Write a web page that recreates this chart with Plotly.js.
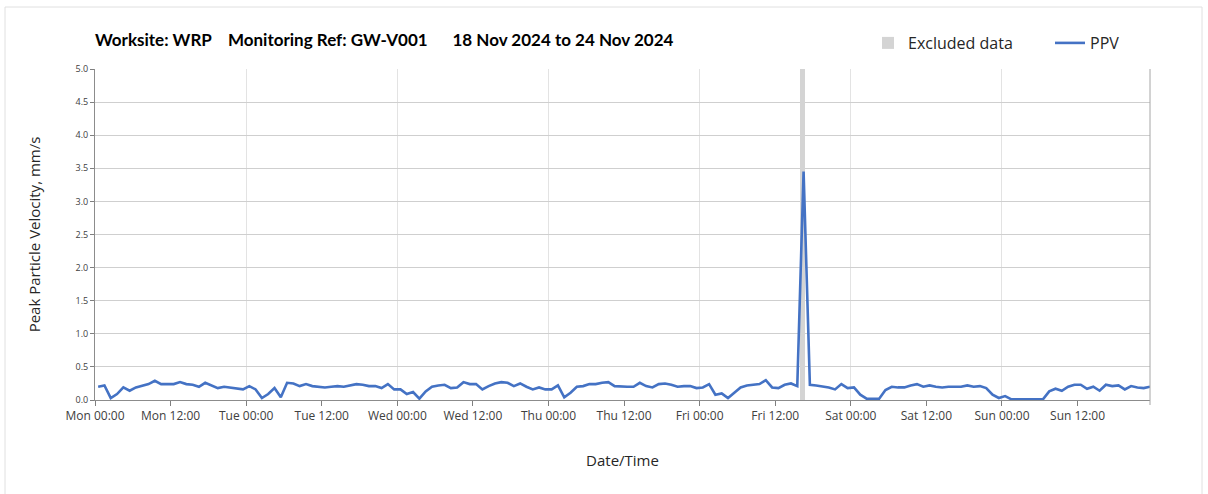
<!DOCTYPE html>
<html>
<head>
<meta charset="utf-8">
<script src="https://cdn.plot.ly/plotly-3.0.1.min.js"></script>
<style>html,body{margin:0;padding:0;background:#fff;}#chart{width:1208px;height:494px;}</style>
</head>
<body>
<div id="chart"></div>
<script>
// Hourly PPV readings (mm/s), first reading 18 Nov 2024 00:30, one per hour
const startTime = '2024-11-18T00:30:00';
const ppvValues = [
  0.20,0.22,0.03,0.09,0.19,0.14,0.19,0.21,0.24,0.29,0.24,0.24,0.24,0.27,0.24,0.23,0.20,0.26,0.22,0.18,0.20,0.19,0.18,0.16,
  0.21,0.16,0.03,0.09,0.18,0.04,0.26,0.25,0.21,0.24,0.21,0.20,0.19,0.20,0.21,0.20,0.22,0.24,0.23,0.21,0.21,0.18,0.24,0.16,
  0.16,0.09,0.12,0.02,0.13,0.20,0.22,0.23,0.18,0.19,0.27,0.24,0.24,0.16,0.21,0.25,0.27,0.26,0.21,0.25,0.20,0.16,0.19,0.16,
  0.16,0.22,0.04,0.11,0.20,0.21,0.24,0.24,0.26,0.27,0.21,0.20,0.20,0.20,0.26,0.21,0.19,0.24,0.25,0.23,0.20,0.21,0.21,0.18,
  0.19,0.24,0.08,0.10,0.03,0.11,0.19,0.22,0.23,0.24,0.30,0.19,0.18,0.23,0.25,0.21,3.45,0.23,0.22,0.21,0.19,0.16,0.24,0.18,
  0.19,0.08,0.02,0.02,0.02,0.15,0.20,0.19,0.19,0.22,0.24,0.20,0.22,0.20,0.19,0.20,0.20,0.20,0.22,0.20,0.21,0.18,0.08,0.03,
  0.06,0.01,0.01,0.01,0.01,0.01,0.01,0.13,0.17,0.14,0.20,0.23,0.23,0.17,0.20,0.14,0.23,0.21,0.22,0.16,0.21,0.19,0.18,0.20
];
// Excluded data period
const excludedStart = ['2024-11-22T16:20:00'];
const excludedHeight = [5.0];
const excludedWidthMinutes = 50;

const xRange = ['2024-11-18 00:00', '2024-11-24 23:30'];
const yRange = [0, 5];
const yDtick = 0.5;

const HOUR = 3600000;
const t0 = new Date(startTime + 'Z').getTime();
const fmt = ms => new Date(ms).toISOString().replace('T',' ').slice(0,19);
const ppvTimes = ppvValues.map((v,i) => fmt(t0 + i*HOUR));

const traces = [
  {
    type: 'bar', name: 'Excluded data',
    x: excludedStart, y: excludedHeight,
    width: [excludedWidthMinutes*60000],
    marker: {color: '#d4d4d4', line: {width: 0}},
    xaxis: 'x', yaxis: 'y',
    hoverinfo: 'skip'
  },
  {
    type: 'scatter', mode: 'lines', name: 'PPV',
    x: ppvTimes, y: ppvValues,
    line: {color: '#4472c4', width: 2.6},
    xaxis: 'x2', yaxis: 'y'
  }
];

const W = 1208, H = 494;
const layout = {
  width: W, height: H,
  paper_bgcolor: '#ffffff', plot_bgcolor: '#ffffff',
  margin: {l: 95, r: 58, t: 69, b: 94},
  showlegend: true,
  legend: {orientation: 'h', xref: 'container', yref: 'container',
           x: 868/W, xanchor: 'left', y: 1 - 43/H, yanchor: 'middle',
           font: {family: 'Open Sans, sans-serif', size: 16, color: '#262626'},
           bgcolor: 'rgba(0,0,0,0)', traceorder: 'normal', itemwidth: 30, entrywidth: 137},
  title: {
    text: '<b>Worksite: WRP\u00a0\u00a0\u00a0\u00a0Monitoring Ref: GW-V001\u00a0\u00a0\u00a0\u00a0\u00a0\u00a018 Nov 2024 to 24 Nov 2024</b>',
    font: {family: 'Lato, sans-serif', size: 17, color: '#000000'},
    xref: 'container', x: 95/W, xanchor: 'left', yref: 'container', y: 1 - 40/H, yanchor: 'middle'
  },
  xaxis: {
    type: 'date', range: xRange,
    dtick: 24*HOUR, tick0: '2024-11-18 00:00',
    showgrid: true, gridcolor: '#e3e3e3', gridwidth: 1,
    showticklabels: false, ticks: '', zeroline: false,
    showline: true, linecolor: '#8c8c8c', linewidth: 1
  },
  xaxis2: {
    type: 'date', range: xRange, overlaying: 'x', side: 'bottom', anchor: 'y',
    dtick: 12*HOUR, tick0: '2024-11-18 00:00',
    tickformat: '%a %H:%M',
    ticks: 'outside', ticklen: 5, tickcolor: '#7f7f7f',
    showgrid: false, zeroline: false, showline: false,
    tickfont: {family: 'Open Sans, sans-serif', size: 12, color: '#404040'},
    title: {text: 'Date/Time', font: {family: 'Open Sans, sans-serif', size: 15, color: '#262626'}, standoff: 32}
  },
  yaxis: {
    range: yRange, dtick: yDtick, tickformat: '.1f',
    ticks: 'outside', ticklen: 4, tickcolor: '#7f7f7f',
    showgrid: true, gridcolor: '#cfcfcf', gridwidth: 1,
    zeroline: false, showline: true, linecolor: '#8c8c8c', linewidth: 1,
    tickfont: {family: 'Open Sans, sans-serif', size: 9, color: '#404040'},
    title: {text: 'Peak Particle Velocity, mm/s', font: {family: 'Open Sans, sans-serif', size: 15, color: '#262626'}, standoff: 31}
  },
  shapes: [
    {type: 'line', xref: 'paper', yref: 'paper', x0: 1, x1: 1, y0: -5/331, y1: 1, line: {color: '#a6a6a6', width: 1}},
    {type: 'rect', xref: 'paper', yref: 'paper', x0: -90/1055, x1: 1 + 52/1055, y0: -100/331, y1: 1 + 62/331,
     line: {color: '#e0e0e0', width: 1}, layer: 'below'}
  ],
  bargap: 0
};

Plotly.newPlot('chart', traces, layout, {staticPlot: true, displayModeBar: false});
</script>
</body>
</html>
